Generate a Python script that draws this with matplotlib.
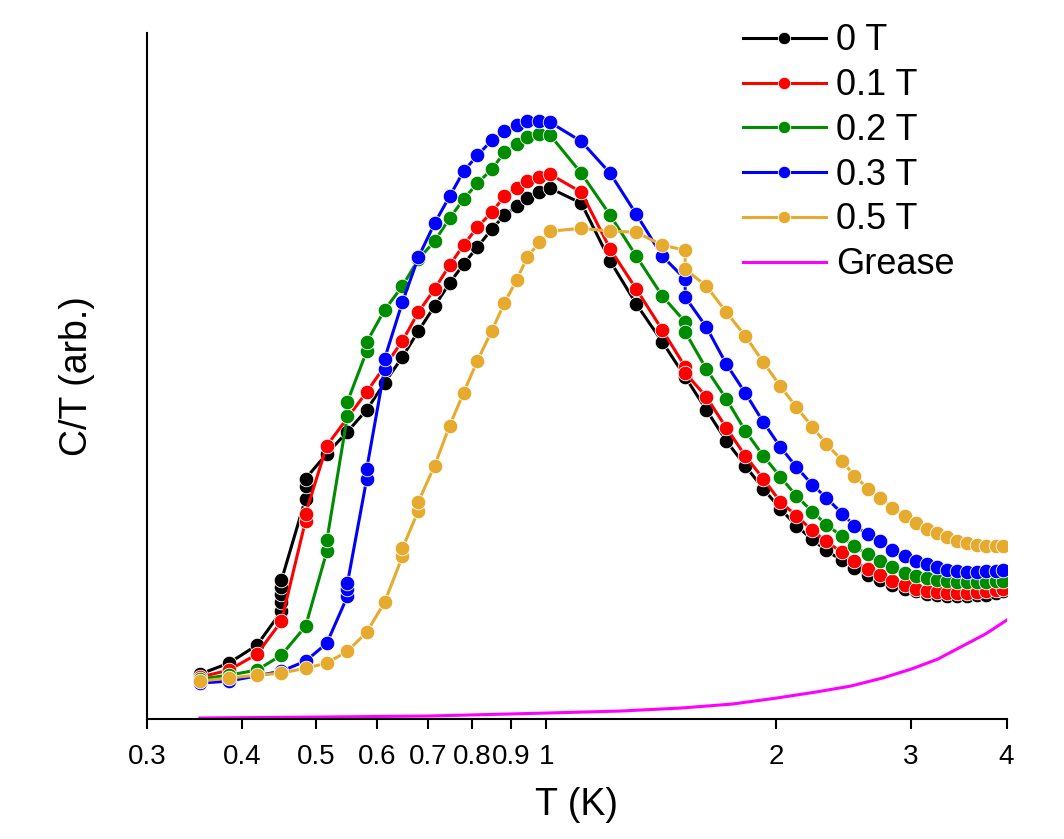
import numpy as np
import matplotlib.pyplot as plt

plt.rcParams['font.family'] = ['Liberation Sans', 'DejaVu Sans']

# temperature (K) and C/T (arb.) for each field
T_0 = [0.352, 0.384, 0.418, 0.450, 0.450, 0.450, 0.450, 0.450, 0.484, 0.484, 0.484,
       0.516, 0.549, 0.582, 0.614, 0.648, 0.680, 0.714, 0.747, 0.779, 0.812, 0.848,
       0.881, 0.914, 0.944, 0.979, 1.012, 1.111, 1.212, 1.311, 1.418, 1.519, 1.619,
       1.719, 1.820, 1.921, 2.022, 2.122, 2.227, 2.323, 2.437, 2.527, 2.636, 2.733,
       2.834, 2.946, 3.045, 3.148, 3.244, 3.343, 3.445, 3.550, 3.660, 3.760, 3.875, 3.958]
C_0 = [0.42, 0.53, 0.71, 1.05, 1.14, 1.22, 1.29, 1.36, 2.18, 2.31, 2.38,
       2.63, 2.85, 3.07, 3.34, 3.60, 3.86, 4.11, 4.34, 4.53, 4.70, 4.88,
       5.02, 5.11, 5.19, 5.25, 5.29, 5.14, 4.56, 4.13, 3.75, 3.40, 3.07,
       2.76, 2.51, 2.28, 2.08, 1.91, 1.77, 1.66, 1.56, 1.48, 1.41, 1.36,
       1.31, 1.27, 1.25, 1.22, 1.21, 1.20, 1.20, 1.20, 1.21, 1.21, 1.23, 1.25]

T_01 = [0.352, 0.384, 0.418, 0.450, 0.484, 0.484, 0.516, 0.582, 0.648, 0.680, 0.714,
        0.747, 0.779, 0.812, 0.848, 0.881, 0.914, 0.944, 0.979, 1.012, 1.111, 1.212,
        1.311, 1.418, 1.519, 1.519, 1.619, 1.719, 1.820, 1.921, 2.022, 2.122, 2.227,
        2.323, 2.437, 2.527, 2.636, 2.733, 2.834, 2.946, 3.045, 3.148, 3.244, 3.343,
        3.445, 3.550, 3.660, 3.760, 3.875, 3.958]
C_01 = [0.39, 0.46, 0.62, 0.95, 1.96, 2.03, 2.71, 3.25, 3.76, 4.05, 4.28,
        4.52, 4.72, 4.90, 5.05, 5.21, 5.29, 5.36, 5.40, 5.43, 5.25, 4.68,
        4.28, 3.87, 3.50, 3.44, 3.20, 2.89, 2.61, 2.38, 2.15, 2.01, 1.86,
        1.75, 1.64, 1.55, 1.47, 1.41, 1.35, 1.31, 1.27, 1.25, 1.24, 1.23,
        1.23, 1.23, 1.24, 1.25, 1.26, 1.27]

T_02 = [0.352, 0.384, 0.418, 0.450, 0.484, 0.516, 0.516, 0.549, 0.549, 0.582, 0.582,
        0.614, 0.648, 0.680, 0.714, 0.747, 0.779, 0.812, 0.848, 0.881, 0.914, 0.944,
        0.979, 1.012, 1.111, 1.212, 1.311, 1.418, 1.519, 1.519, 1.619, 1.719, 1.820,
        1.921, 2.022, 2.122, 2.227, 2.323, 2.437, 2.527, 2.636, 2.733, 2.834, 2.946,
        3.045, 3.148, 3.244, 3.343, 3.445, 3.550, 3.660, 3.760, 3.875, 3.958]
C_02 = [0.37, 0.41, 0.46, 0.61, 0.90, 1.65, 1.76, 3.01, 3.15, 3.66, 3.75,
        4.07, 4.31, 4.58, 4.76, 4.99, 5.18, 5.34, 5.48, 5.65, 5.73, 5.80,
        5.83, 5.82, 5.44, 5.02, 4.61, 4.21, 3.95, 3.85, 3.48, 3.18, 2.86,
        2.61, 2.40, 2.21, 2.05, 1.92, 1.80, 1.70, 1.62, 1.55, 1.49, 1.43,
        1.40, 1.38, 1.36, 1.35, 1.34, 1.34, 1.34, 1.34, 1.35, 1.35]

T_03 = [0.352, 0.384, 0.450, 0.484, 0.516, 0.549, 0.549, 0.549, 0.582, 0.582, 0.614,
        0.614, 0.648, 0.680, 0.714, 0.747, 0.779, 0.812, 0.848, 0.881, 0.914, 0.944,
        0.979, 1.012, 1.111, 1.212, 1.311, 1.418, 1.519, 1.519, 1.619, 1.719, 1.820,
        1.921, 2.022, 2.122, 2.227, 2.323, 2.437, 2.527, 2.636, 2.733, 2.834, 2.946,
        3.045, 3.148, 3.244, 3.343, 3.445, 3.550, 3.660, 3.760, 3.875, 3.958]
C_03 = [0.33, 0.35, 0.45, 0.55, 0.73, 1.20, 1.27, 1.33, 2.38, 2.48, 3.48,
        3.58, 4.15, 4.60, 4.94, 5.21, 5.46, 5.62, 5.77, 5.86, 5.92, 5.97,
        5.97, 5.95, 5.76, 5.44, 5.03, 4.61, 4.38, 4.20, 3.90, 3.53, 3.24,
        2.95, 2.70, 2.50, 2.32, 2.19, 2.03, 1.91, 1.82, 1.75, 1.66, 1.60,
        1.55, 1.52, 1.49, 1.46, 1.45, 1.44, 1.44, 1.45, 1.45, 1.46]

T_05 = [0.352, 0.384, 0.418, 0.450, 0.484, 0.516, 0.549, 0.582, 0.614, 0.648, 0.648,
        0.680, 0.680, 0.714, 0.747, 0.779, 0.812, 0.848, 0.881, 0.914, 0.944, 0.979,
        1.012, 1.111, 1.212, 1.311, 1.418, 1.519, 1.519, 1.619, 1.719, 1.820, 1.921,
        2.022, 2.122, 2.227, 2.323, 2.437, 2.527, 2.636, 2.733, 2.834, 2.946, 3.045,
        3.148, 3.244, 3.343, 3.445, 3.550, 3.660, 3.760, 3.875, 3.958]
C_05 = [0.35, 0.38, 0.41, 0.43, 0.48, 0.53, 0.65, 0.84, 1.14, 1.60, 1.68,
        2.06, 2.15, 2.51, 2.91, 3.24, 3.56, 3.86, 4.14, 4.37, 4.60, 4.75,
        4.86, 4.89, 4.86, 4.85, 4.72, 4.67, 4.48, 4.31, 4.05, 3.81, 3.55,
        3.31, 3.10, 2.90, 2.73, 2.56, 2.41, 2.28, 2.19, 2.09, 2.01, 1.94,
        1.87, 1.83, 1.79, 1.75, 1.73, 1.71, 1.70, 1.70, 1.70]

T_grease = [0.352, 0.5, 0.7, 1.0, 1.25, 1.5, 1.75, 2.0, 2.25, 2.5, 2.75, 3.0, 3.25, 3.5, 3.75, 4.0]
C_grease = [-0.02, -0.01, 0.0, 0.03, 0.05, 0.08, 0.12, 0.18, 0.24, 0.30, 0.38, 0.47, 0.57, 0.70, 0.82, 0.96]

series = [
    (T_0, C_0, 'black', '0 T'),
    (T_01, C_01, '#ff0000', '0.1 T'),
    (T_02, C_02, '#008c00', '0.2 T'),
    (T_03, C_03, '#0000ff', '0.3 T'),
    (T_05, C_05, '#e6ab2e', '0.5 T'),
]

fig = plt.figure(figsize=(10.64, 8.39), dpi=100)
ax = fig.add_axes([0.138, 0.143, 0.808, 0.818])

for T, C, col, lab in series:
    ax.plot(T, C, '-o', color=col, lw=2.2, ms=10.5, mec='white', mew=0.6, label=lab)
ax.plot(T_grease, C_grease, '-', color='#ff00ff', lw=2.2, label='Grease')

ax.set_xscale('log')
ax.set_xlim(0.3, 4)
ax.set_ylim(-0.03, 6.85)
ticks = [0.3, 0.4, 0.5, 0.6, 0.7, 0.8, 0.9, 1, 2, 3, 4]
ax.set_xticks(ticks)
ax.set_xticklabels(['0.3', '0.4', '0.5', '0.6', '0.7', '0.8', '0.9', '1', '2', '3', '4'])
ax.xaxis.set_minor_locator(plt.NullLocator())
ax.set_yticks([])
ax.tick_params(axis='x', direction='out', length=7, width=1.5, labelsize=20, pad=11)

for s in ['top', 'right']:
    ax.spines[s].set_visible(False)
for s in ['left', 'bottom']:
    ax.spines[s].set_linewidth(1.5)

ax.set_xlabel('T (K)', fontsize=27, labelpad=12)
ax.set_ylabel('C/T (arb.)', fontsize=27, labelpad=37)

leg = ax.legend(loc='upper left', bbox_to_anchor=(0.698, 0.972), bbox_transform=fig.transFigure,
                frameon=False, fontsize=26, handlelength=2.3, handletextpad=0.28,
                labelspacing=0.27, markerscale=0.85, borderpad=0, borderaxespad=0)

fig.savefig('out.png', dpi=100)
